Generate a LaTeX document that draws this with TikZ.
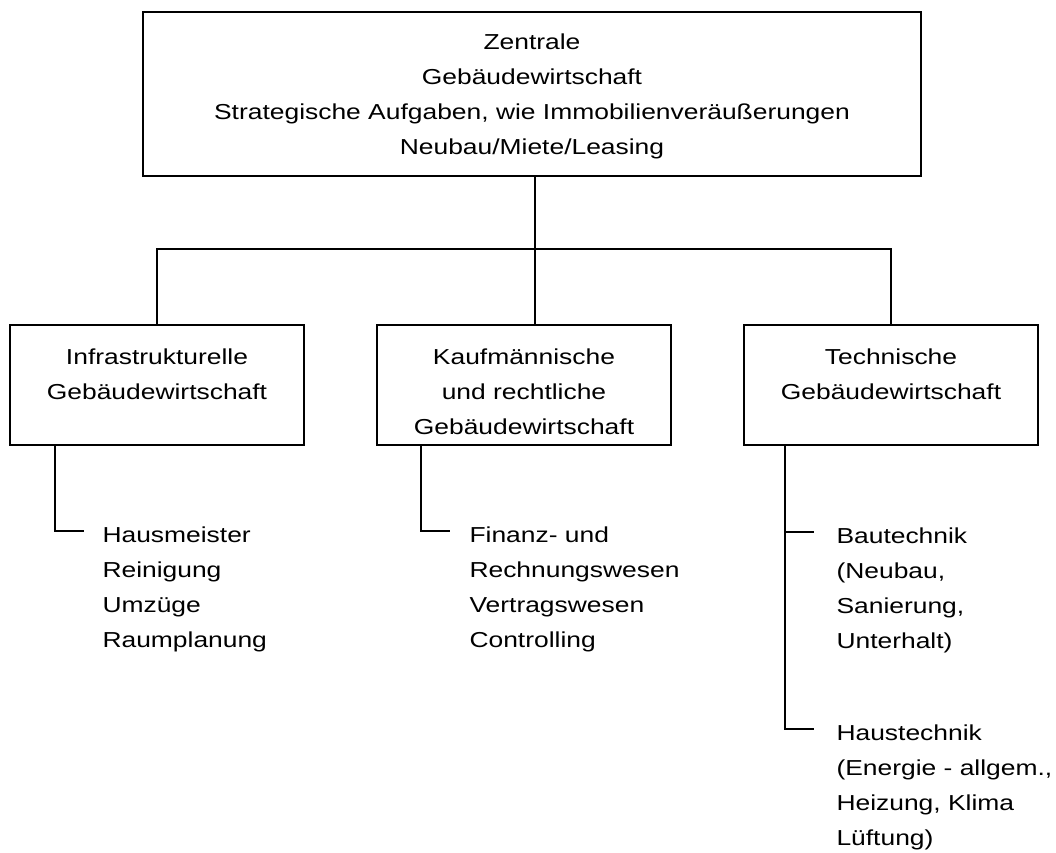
\documentclass[tikz,border=0pt]{standalone}
\usepackage{fontspec}
\setmainfont{Liberation Sans}[FakeStretch=1.22]
\usetikzlibrary{positioning, calc}
\tikzstyle{head} = [rectangle, minimum width=19.45cm, minimum height=4.1cm, align=center, draw=black, line width=1.1pt]
\tikzstyle{unit} = [rectangle, minimum width=7.35cm, minimum height=3cm, align=center, draw=black, line width=1.1pt]
\tikzstyle{items} = [inner sep=0pt, align=left, anchor=north west]
\tikzstyle{wire} = [draw=black, line width=1.1pt]
\newcommand{\boxstrut}{\rule{0pt}{0.72cm}}

\begin{document}
\begin{tikzpicture}[node distance=4cm, font=\fontsize{15.4}{24.9}\selectfont]
\useasboundingbox (0,0) rectangle (26.4,-21.325);
\node (zentrale) [head] at (13.3,-2.35) {\rule{0pt}{0.52cm}Zentrale\\Gebäudewirtschaft\\Strategische Aufgaben, wie Immobilienveräußerungen\\Neubau/Miete/Leasing};
\node (infra) [unit, below of=zentrale, xshift=-9.375cm, yshift=-3.275cm] {\boxstrut Infrastrukturelle\\Gebäudewirtschaft\\\mbox{}};
\node (kaufm) [unit, below of=zentrale, xshift=-0.2cm, yshift=-3.275cm] {\boxstrut Kaufmännische\\und rechtliche\\Gebäudewirtschaft};
\node (techn) [unit, below of=zentrale, xshift=8.975cm, yshift=-3.275cm] {\boxstrut Technische\\Gebäudewirtschaft\\\mbox{}};
\draw[wire] ([xshift=0.075cm]zentrale.south) -- ([xshift=0.075cm]zentrale.south |- kaufm.north);
\draw[wire] (infra.north) -- ++(0,1.875) -| (techn.north);
\coordinate (infrafoot) at ([xshift=1.15cm]infra.south west);
\coordinate (infratick) at ($(infrafoot)+(0,-2.125)$);
\coordinate (infraend) at ($(infratick)+(0.725,0)$);
\node (infraitems) [items] at ($(infraend)+(0.45,0.1)$) {Hausmeister\\Reinigung\\Umzüge\\Raumplanung};
\coordinate (kaufmfoot) at ([xshift=1.125cm]kaufm.south west);
\coordinate (kaufmtick) at ($(kaufmfoot)+(0,-2.125)$);
\coordinate (kaufmend) at ($(kaufmtick)+(0.725,0)$);
\node (kaufmitems) [items] at ($(kaufmend)+(0.475,0.1)$) {Finanz- und\\Rechnungswesen\\Vertragswesen\\Controlling};
\coordinate (technfoot) at ([xshift=1.05cm]techn.south west);
\coordinate (bautick) at ($(technfoot)+(0,-2.15)$);
\coordinate (bauend) at ($(bautick)+(0.725,0)$);
\coordinate (haustick) at ($(technfoot)+(0,-7.075)$);
\coordinate (hausend) at ($(haustick)+(0.725,0)$);
\node (bauitems) [items] at ($(bauend)+(0.55,0.1)$) {Bautechnik\\(Neubau,\\Sanierung,\\Unterhalt)};
\node (hausitems) [items] at ($(hausend)+(0.55,0.1)$) {Haustechnik\\(Energie - allgem.,\\Heizung, Klima\\Lüftung)};
\draw[wire] (infrafoot) -- (infratick) -- (infraend);
\draw[wire] (kaufmfoot) -- (kaufmtick) -- (kaufmend);
\draw[wire] (technfoot) -- (haustick) -- (hausend);
\draw[wire] (bautick) -- (bauend);
\end{tikzpicture}
\end{document}
